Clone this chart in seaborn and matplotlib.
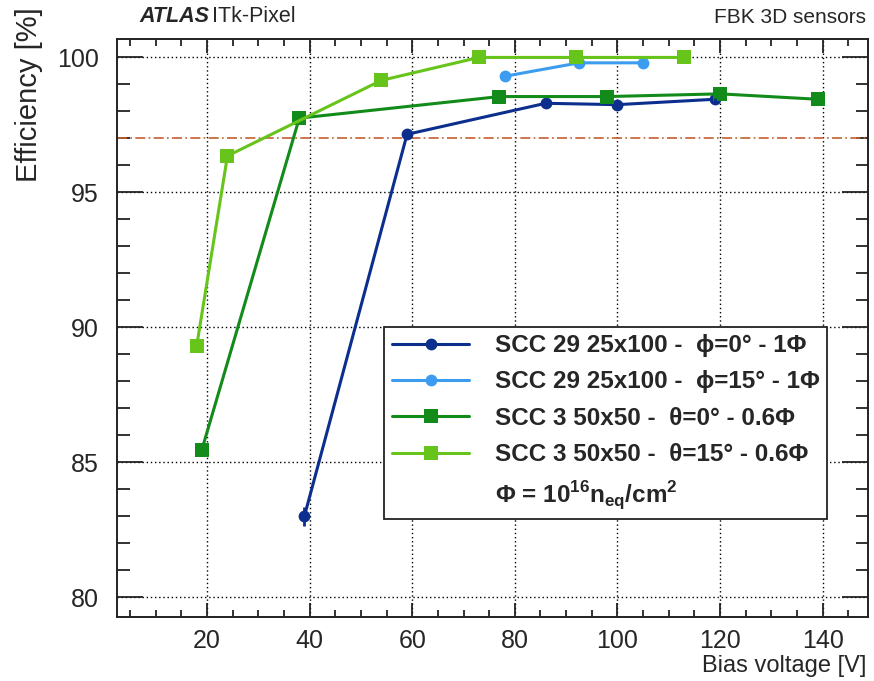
import pandas as pd
import matplotlib
matplotlib.use('Agg')
import matplotlib.pyplot as plt
import seaborn as sns
from matplotlib.lines import Line2D
from matplotlib.ticker import MultipleLocator

# Data
scc29_0_v = [39, 59, 86, 100, 119]
scc29_0_eff = [83.0, 97.15, 98.3, 98.25, 98.45]
scc29_0_err = [0.35, 0.05, 0.05, 0.05, 0.05]

scc29_15_v = [78, 92.5, 105]
scc29_15_eff = [99.3, 99.8, 99.8]

scc3_0_v = [19, 38, 77, 98, 120, 139]
scc3_0_eff = [85.45, 97.75, 98.55, 98.55, 98.65, 98.45]

scc3_15_v = [18, 24, 54, 73, 92, 113]
scc3_15_eff = [89.3, 96.35, 99.15, 100.0, 100.0, 100.0]

threshold = 97.0

labels = ['SCC 29 25x100 -  \u03d5=0\u00b0 - 1\u03a6',
          'SCC 29 25x100 -  \u03d5=15\u00b0 - 1\u03a6',
          'SCC 3 50x50 -  \u03b8=0\u00b0 - 0.6\u03a6',
          'SCC 3 50x50 -  \u03b8=15\u00b0 - 0.6\u03a6']
colors = ['#0c2f8e', '#3c9cef', '#138b1b', '#66c41a']
markers = ['o', 'o', 's', 's']
msizes = {'o': 8.5, 's': 10}

df = pd.concat([
    pd.DataFrame({'V': scc29_0_v, 'eff': scc29_0_eff, 'series': labels[0]}),
    pd.DataFrame({'V': scc29_15_v, 'eff': scc29_15_eff, 'series': labels[1]}),
    pd.DataFrame({'V': scc3_0_v, 'eff': scc3_0_eff, 'series': labels[2]}),
    pd.DataFrame({'V': scc3_15_v, 'eff': scc3_15_eff, 'series': labels[3]}),
], ignore_index=True)

sns.set_style('ticks')
plt.rcParams['font.family'] = ['Liberation Sans', 'DejaVu Sans']
plt.rcParams['mathtext.fontset'] = 'custom'
plt.rcParams['mathtext.rm'] = 'Liberation Sans'
plt.rcParams['mathtext.bf'] = 'Liberation Sans:bold'

fig = plt.figure(figsize=(8.74, 6.81), dpi=100)
ax = fig.add_axes([0.134, 0.094, 0.859, 0.849])

# threshold line and grid first
ax.axhline(threshold, color='#c4602e', lw=1.2, ls=(0, (6, 2, 1, 2)), zorder=1)
ax.grid(True, which='major', color='black', ls=(0, (1, 2)), lw=1.0, zorder=0)

sns.lineplot(data=df, x='V', y='eff', hue='series', style='series',
             palette=dict(zip(labels, colors)), markers=dict(zip(labels, markers)),
             dashes=False, sort=False, lw=2.2, markersize=9, markeredgewidth=0,
             legend=False, ax=ax, zorder=3)
for ln in ax.lines:
    m = ln.get_marker()
    if m in msizes:
        ln.set_markersize(msizes[m])

# error bars on first series
ax.errorbar(scc29_0_v, scc29_0_eff, yerr=scc29_0_err, fmt='none',
            ecolor=colors[0], elinewidth=2, zorder=3)

ax.set_xlim(2.5, 148.8)
ax.set_ylim(79.26, 100.69)
ax.xaxis.set_major_locator(MultipleLocator(20))
ax.xaxis.set_minor_locator(MultipleLocator(5))
ax.yaxis.set_major_locator(MultipleLocator(5))
ax.yaxis.set_minor_locator(MultipleLocator(1))
ax.tick_params(axis='both', which='both', direction='in', top=True, right=True,
               labelsize=18, width=1.3, color='#222222')
ax.tick_params(axis='x', which='major', length=10, pad=9)
ax.tick_params(axis='x', which='minor', length=5)
ax.tick_params(axis='y', which='major', length=19, pad=13)
ax.tick_params(axis='y', which='minor', length=9)
for s in ax.spines.values():
    s.set_linewidth(1.4)
    s.set_color('#222222')

ax.set_xlabel('')
ax.set_ylabel('')
fig.text(0.991, 0.013, 'Bias voltage [V]', ha='right', va='baseline', fontsize=17)
fig.text(0.033, 0.99, 'Efficiency [%]', ha='center', va='top', rotation=90, fontsize=21)

fig.text(0.160, 0.960, 'ATLAS', ha='left', va='bottom', fontsize=15.5,
         fontweight='bold', fontstyle='italic')
fig.text(0.243, 0.960, 'ITk-Pixel', ha='left', va='bottom', fontsize=15.5)
fig.text(0.991, 0.960, 'FBK 3D sensors', ha='right', va='bottom', fontsize=15)

handles = [Line2D([], [], color=c, marker=m, lw=2.2, markersize=msizes[m], markeredgewidth=0)
           for c, m in zip(colors, markers)]
handles.append(Line2D([], [], color='none'))
leg_labels = labels + [r'$\mathbf{\Phi}$ = 10$^{\mathbf{16}}$n$_{\mathbf{eq}}$/cm$^{\mathbf{2}}$']
leg = ax.legend(handles, leg_labels, loc='upper left', bbox_to_anchor=(0.356, 0.502),
                frameon=True, fancybox=False, edgecolor='#222222', framealpha=1,
                prop={'size': 17.5, 'weight': 'bold'}, handlelength=3.2,
                handletextpad=1.05, labelspacing=0.55, borderpad=0.3, borderaxespad=0)
leg.get_frame().set_linewidth(1.3)
leg.set_zorder(5)

plt.savefig('out.png', dpi=100)
